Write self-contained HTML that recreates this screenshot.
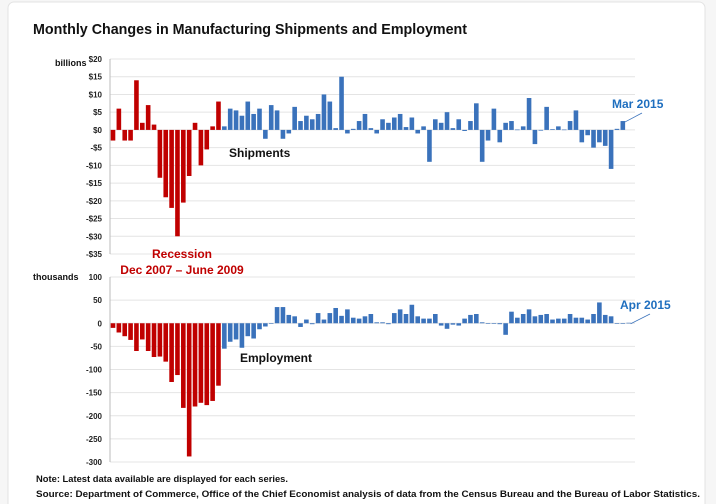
<!DOCTYPE html>
<html><head><meta charset="utf-8"><style>
html,body{margin:0;padding:0;background:#f6f6f6;}
svg{display:block;font-family:"Liberation Sans",sans-serif;}
</style></head><body>
<svg id="chart" width="716" height="504" viewBox="0 0 716 504" xmlns="http://www.w3.org/2000/svg">
<rect x="8" y="2" width="697" height="510" rx="6" fill="#fff" stroke="#e3e3e3"/>
<text x="33" y="34" font-size="15" font-weight="bold" fill="#111" textLength="434" lengthAdjust="spacingAndGlyphs">Monthly Changes in Manufacturing Shipments and Employment</text>
<g id="top"></g>
<g id="bottom"></g>
<text x="55" y="66" font-size="9" font-weight="bold" fill="#111">billions</text>
<text x="33" y="280" font-size="9" font-weight="bold" fill="#111">thousands</text>
<text x="182" y="258" font-size="12" font-weight="bold" fill="#c00000" text-anchor="middle">Recession</text>
<text x="182" y="274" font-size="12" font-weight="bold" fill="#c00000" text-anchor="middle">Dec 2007 – June 2009</text>
<text x="229" y="157" font-size="12" font-weight="bold" fill="#111">Shipments</text>
<text x="240" y="362" font-size="12" font-weight="bold" fill="#111">Employment</text>
<text x="36" y="482" font-size="9" font-weight="bold" fill="#111" textLength="252" lengthAdjust="spacingAndGlyphs">Note: Latest data available are displayed for each series.</text>
<text x="36" y="497" font-size="9" font-weight="bold" fill="#111" textLength="664" lengthAdjust="spacingAndGlyphs">Source: Department of Commerce, Office of the Chief Economist analysis of data from the Census Bureau and the Bureau of Labor Statistics.</text>
</svg>
<script>
const shipments = [-3,6,-3,-3,14,2,7,1.5,-13.5,-19,-22,-30,-20.5,-13,2,-10,-5.5,1,8,
 1,6,5.5,4,8,4.5,6,-2.5,7,5.5,-2.5,-1,6.5,2.5,4,3,4.5,10,8,0.5,15,
 -1,0.3,2.5,4.5,0.5,-1,3,2,3.5,4.5,0.8,3.5,-1,1,-9,3,2,5,0.5,3,-0.3,2.5,7.5,-9,-3,6,-3.5,2,2.5,0.1,1,9,-4,-0.2,6.5,0.2,1,0.1,2.5,5.5,-3.5,-1.5,-5,-3.5,-4.5,-11,0.3,2.5];
const employment = [-10,-20,-28,-36,-60,-35,-60,-73,-72,-83,-127,-112,-183,-288,-180,-172,-177,-168,-135,
 -55,-40,-35,-53,-28,-33,-13,-7,0,35,35,18,15,-8,8,-2,22,8,22,33,16,30,
 12,10,15,20,2,2,-2,22,30,20,40,15,10,10,20,-5,-12,-3,-5,10,18,20,2,0,0,-2,-25,25,12,20,30,15,18,20,8,10,10,20,12,12,8,20,45,18,15,0,0,1];
const recessionCount = 19;
const shipTicks = [20,15,10,5,0,-5,-10,-15,-20,-25,-30,-35];
const empTicks = [100,50,0,-50,-100,-150,-200,-250,-300];
const shipLast = "Mar 2015";
const empLast = "Apr 2015";

const NS="http://www.w3.org/2000/svg";
function mk(parent,tag,attrs){const e=document.createElementNS(NS,tag);for(const k in attrs)e.setAttribute(k,attrs[k]);parent.appendChild(e);return e;}
const x0=113, step=5.86, bw=4.6, plotL=110, plotR=635;
function xPos(i){return x0+i*step;}

function panel(g,data,ticks,yTop,yBot,vMax,vMin,fmt,lastLabel,labelX,labelY,prefix){
  const y=v=>yTop+(vMax-v)/(vMax-vMin)*(yBot-yTop);
  ticks.forEach(t=>{
    const gl=mk(g,'line',{x1:plotL,x2:plotR,y1:y(t),y2:y(t),stroke:'#e4e4e4','stroke-width':1});
    
    
    const tl=mk(g,'text',{x:plotL-8,y:y(t)+3,'font-size':8,'font-weight':'bold','text-anchor':'end',fill:'#222'});
    tl.textContent=fmt(t);
    
    
  });
  const ax=mk(g,'line',{x1:plotL,x2:plotL,y1:y(vMax),y2:y(vMin),stroke:'#bbb','stroke-width':1});
  
  
  data.forEach((v,i)=>{
    const top=Math.min(y(v),y(0)), h=Math.max(Math.abs(y(v)-y(0)),0.6);
    const r=mk(g,'rect',{x:xPos(i)-bw/2,y:top,width:bw,height:h,fill:i<recessionCount?'#c00000':'#3a72bb'});
    
    
  });
  const li=data.length-1, lx=xPos(li), ly=Math.min(y(data[li]),y(0));
  const ln=mk(g,'line',{x1:lx+2,y1:ly+1,x2:labelX+30,y2:labelY+5,stroke:'#3a72bb','stroke-width':0.8});
  
  
  const lt=mk(g,'text',{x:labelX,y:labelY,'font-size':12,'font-weight':'bold',fill:'#1f6fbf'});
  lt.textContent=lastLabel;
  
  
}
panel(document.getElementById('top'),shipments,shipTicks,59,254,20,-35,t=>(t<0?'-$'+(-t):'$'+t),shipLast,612,108,'shipments');
panel(document.getElementById('bottom'),employment,empTicks,277,462,100,-300,t=>String(t),empLast,620,309,'employment');
</script>
</body></html>
